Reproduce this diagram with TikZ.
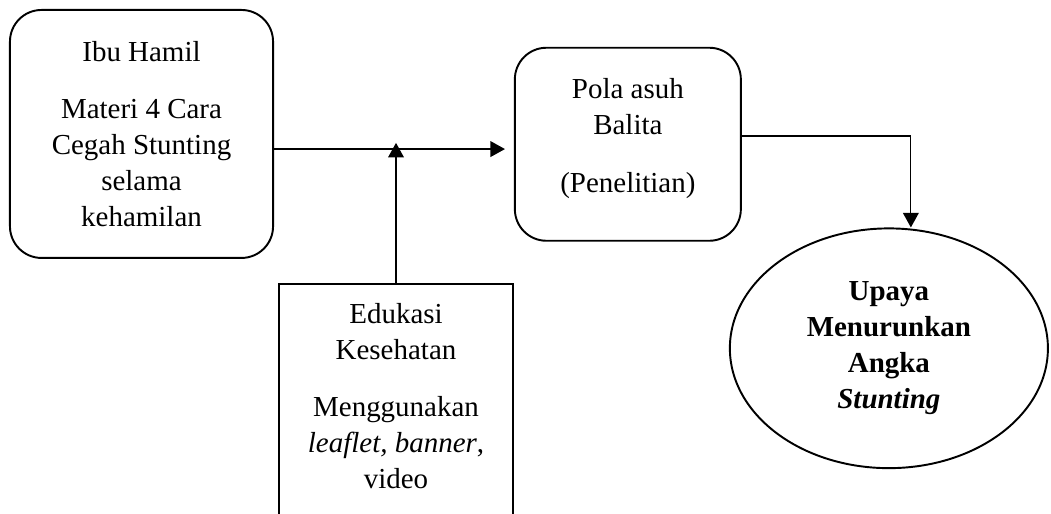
\documentclass[tikz,border=0pt]{standalone}
\usepackage{fontspec}
\setmainfont{Liberation Serif}
\usetikzlibrary{arrows.meta,positioning,shapes.geometric}
\tikzstyle{fleche} = [-{Triangle[length=6pt,width=6.5pt]},line width=0.5pt]
\tikzstyle{boite} = [draw,line width=0.8pt,rounded corners=0.46cm,align=center]
\tikzstyle{cadre} = [draw,line width=0.8pt,align=center]
\tikzstyle{bulle} = [draw,ellipse,line width=0.8pt,align=center,inner sep=0pt]

\begin{document}
\begin{tikzpicture}[font=\fontsize{12pt}{14.9pt}\selectfont]
	\useasboundingbox (0,0) rectangle (15.3,7.47);
	\clip (0,0) rectangle (15.3,7.47);

	\node[boite, minimum width=3.83cm, minimum height=3.61cm] (hamil) at (2.06,5.52)
		{Ibu Hamil\\[9pt] Materi 4 Cara\\ Cegah Stunting\\ selama\\ kehamilan};

	\node[boite, minimum width=3.29cm, minimum height=2.81cm, text depth=7.5pt] (pola) at (9.14,5.37)
		{Pola asuh\\ Balita\\[9pt] (Penelitian)};

	\node[cadre, anchor=north, minimum width=3.41cm, inner ysep=7.9pt, text depth=80pt] (edukasi) at (5.765,3.35)
		{Edukasi\\ Kesehatan\\[9pt] Menggunakan\\ \textit{leaflet, banner},\\ video};

	\node[bulle, minimum width=4.63cm, minimum height=3.49cm, font=\fontsize{12pt}{14.9pt}\selectfont\bfseries] (upaya) at (12.94,2.40)
		{Upaya\\ Menurunkan\\ Angka\\ \textit{Stunting}};

	% fleches
	\coordinate (jonction) at (5.72,5.39);
	\draw[fleche, shorten >=0.13cm] ([yshift=-0.22cm]hamil.east) -- ([yshift=-0.22cm]hamil.east -| pola.west);
	\draw[fleche] (edukasi.north) -- (edukasi.north |- jonction);
	\draw[fleche] ([yshift=0.12cm]pola.east) -| ([xshift=0.32cm]upaya.north);

\end{tikzpicture}
\end{document}
